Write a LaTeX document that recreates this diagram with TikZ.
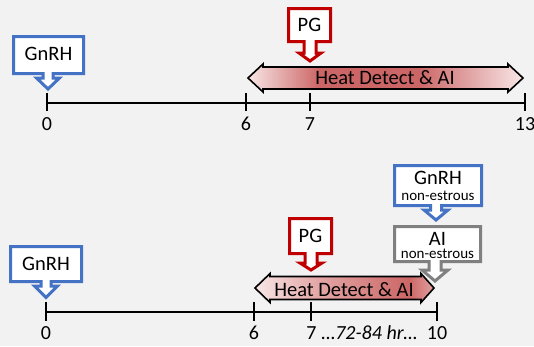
\documentclass[tikz,border=0pt]{standalone}
\usepackage{fontspec}
\setmainfont{Carlito}
\definecolor{bg}{HTML}{F2F2F2}
\definecolor{cblue}{HTML}{4472C4}
\definecolor{cred}{HTML}{C00000}
\definecolor{cgray}{HTML}{808080}
\definecolor{hl}{HTML}{F8E6E6}
\definecolor{hm}{HTML}{E4A8A8}
\definecolor{hd}{HTML}{CC6666}
\definecolor{hr}{HTML}{E2A0A0}
\pgfdeclarehorizontalshading{heatA}{100bp}{color(0bp)=(hl); color(25bp)=(hl); color(38bp)=(hd); color(56bp)=(hd); color(75bp)=(hl); color(100bp)=(hl)}
\pgfdeclarehorizontalshading{heatB}{100bp}{color(0bp)=(hl); color(25bp)=(hl); color(42bp)=(hm); color(68bp)=(hd); color(75bp)=(hr); color(100bp)=(hr)}
\tikzset{
  callbox/.style={line width=3pt, fill=white, line join=miter, miter limit=10},
  big/.style={font=\fontsize{20.5}{24}\selectfont, inner sep=0pt, anchor=base},
  small/.style={font=\fontsize{15}{18}\selectfont, inner sep=0pt, anchor=base},
  lab/.style={font=\fontsize{20}{24}\selectfont, inner sep=0pt, anchor=base},
  axis/.style={line width=1.8pt},
  heat/.style={shade, draw=black, line width=1.6pt, line join=miter},
}
\begin{document}
\begin{tikzpicture}[x=1pt,y=-1pt]
\useasboundingbox (0,0) rectangle (534,346);
\fill[bg] (0,0) rectangle (534,346);

% ---------- top timeline ----------
\coordinate (a0) at (47,103);
\coordinate (a6) at (246,103);
\coordinate (a7) at (310,103);
\coordinate (a13) at (525,103);
\draw[axis] (a0) -- (a13);
\foreach \p in {a0,a6,a7,a13} \draw[axis] ([yshift=10pt]\p) -- ([yshift=-8pt]\p);
\node[lab] (la0) at (47,130.5) {0};
\node[lab] (la6) at (246,130.5) {6};
\node[lab] (la7) at (310,130.5) {7};
\node[lab] (la13) at (525,130.5) {13};

% heat detect arrow top
\draw[heat, shading=heatA] (248,78) -- (263,64) -- (263,67) -- (508,67) -- (508,64) -- (523,78)
  -- (508,92) -- (508,89) -- (263,89) -- (263,92) -- cycle;
\node[big] (heatA) at (385,84) {Heat Detect \& AI};

% GnRH top callout
\draw[callbox, draw=cblue] (13.5,36.5) -- (83.5,36.5) -- (83.5,73.5) -- (53,73.5) -- (53,78) -- (59.5,78)
  -- (48,89) -- (36.5,78) -- (43,78) -- (43,73.5) -- (13.5,73.5) -- cycle;
\node[big] (gnrhA) at (48.5,60.5) {GnRH};

% PG top callout
\draw[callbox, draw=cred] (288.5,8.5) -- (330.5,8.5) -- (330.5,41.5) -- (316,41.5) -- (316,53) -- (321,53)
  -- (310,61) -- (299,53) -- (304,53) -- (304,41.5) -- (288.5,41.5) -- cycle;
\node[big] (pgA) at (309.5,31) {PG};

% ---------- bottom timeline ----------
\coordinate (b0) at (46,312);
\coordinate (b6) at (254,312);
\coordinate (b7) at (311,312);
\coordinate (b10) at (437,312);
\draw[axis] (b0) -- (b10);
\foreach \p in {b0,b6,b7,b10} \draw[axis] ([yshift=10pt]\p) -- ([yshift=-9pt]\p);
\node[lab] (lb0) at (46,339) {0};
\node[lab] (lb6) at (254,339) {6};
\node[lab] (lb7) at (311.5,339) {7};
\node[lab] (lbhr) at (369.5,339) {\itshape …72-84 hr…};
\node[lab] (lb10) at (437,339) {10};

% heat detect arrow bottom
\draw[heat, shading=heatB] (255,288) -- (270,273.5) -- (270,276.5) -- (421,276.5) -- (421,273.5) -- (434,288)
  -- (421,302.5) -- (421,299.5) -- (270,299.5) -- (270,302.5) -- cycle;
\node[big] (heatB) at (344,296) {Heat Detect \& AI};

% GnRH bottom callout
\draw[callbox, draw=cblue] (10.5,246.5) -- (81.5,246.5) -- (81.5,281.5) -- (51,281.5) -- (51,286) -- (57.5,286)
  -- (46,297.5) -- (34.5,286) -- (41,286) -- (41,281.5) -- (10.5,281.5) -- cycle;
\node[big] (gnrhB) at (46,270.5) {GnRH};

% PG bottom callout
\draw[callbox, draw=cred] (289.5,218.5) -- (331.5,218.5) -- (331.5,253.5) -- (317,253.5) -- (317,263) -- (322,263)
  -- (311,270) -- (300,263) -- (305,263) -- (305,253.5) -- (289.5,253.5) -- cycle;
\node[big] (pgB) at (310.5,242) {PG};

% GnRH non-estrous callout
\draw[callbox, draw=cblue] (394.5,165.5) -- (481.5,165.5) -- (481.5,205.5) -- (441.5,205.5) -- (441.5,210) -- (448,210)
  -- (436,220) -- (424,210) -- (430.5,210) -- (430.5,205.5) -- (394.5,205.5) -- cycle;
\node[big] (gnrhC) at (438,184) {GnRH};
\node[small] (gnrhCs) at (438,200.5) {non-estrous};

% AI non-estrous callout
\draw[callbox, draw=cgray] (394.5,226.5) -- (480.5,226.5) -- (480.5,261.5) -- (441,261.5) -- (441,270) -- (448,270)
  -- (435,281) -- (422,270) -- (429,270) -- (429,261.5) -- (394.5,261.5) -- cycle;
\node[big] (aiC) at (437.5,245) {AI};
\node[small] (aiCs) at (437.5,258.5) {non-estrous};
\end{tikzpicture}
\end{document}
